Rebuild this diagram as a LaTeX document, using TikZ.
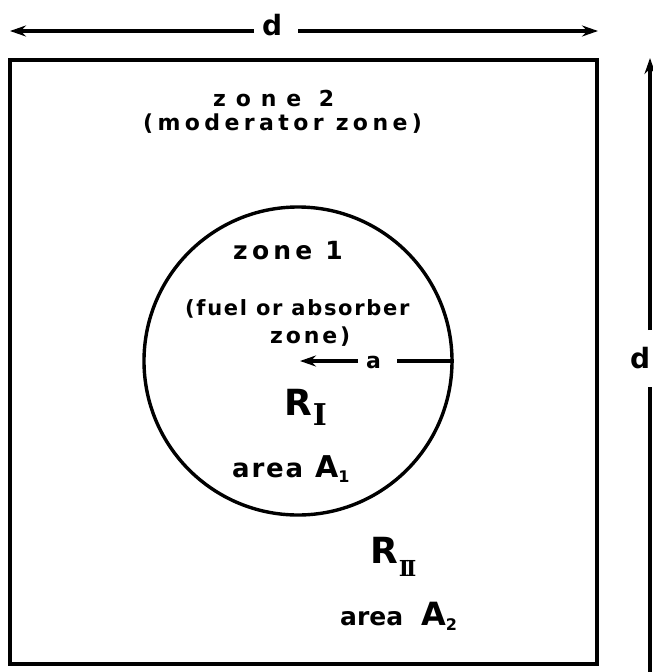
\documentclass[tikz,border=0pt]{standalone}
\usepackage{fontspec}
\setmainfont{DejaVu Sans}
\newfontfamily\serifnum{DejaVu Serif}
\usetikzlibrary{arrows.meta}
\newcommand{\fs}[2]{\fontsize{#1}{#1}\selectfont\addfontfeatures{LetterSpace=#2}}
\begin{document}
\begin{tikzpicture}[x=1pt,y=-1pt,
  ln/.style={line width=3.4pt},
  tip/.style={-{Stealth[length=16pt,width=11pt]}},
  lbl/.style={inner sep=0pt,anchor=base west,font=\bfseries}]
\useasboundingbox (0,0) rectangle (653,672);
\clip (0,0) rectangle (653,672);
% outer square and inner circle
\node[ln,draw,minimum width=587pt,minimum height=604pt,inner sep=0pt] (box) at (303.5,362) {};
\node[ln,draw,circle,minimum size=308pt,inner sep=0pt] (circ) at (298,361) {};
% top dimension
\node[lbl] (dtop) at (262,35) {\fs{28}{0}d};
\coordinate (tl) at (10,31);
\coordinate (tr) at (598,31);
\draw[ln,tip] (dtop.west |- 0,31) ++(-8,0) -- (tl);
\draw[ln,tip] (dtop.east |- 0,31) ++(16,0) -- (tr);
% right dimension
\node[lbl] (dright) at (630,368) {\fs{28}{0}d};
\coordinate (rt) at (650,58);
\coordinate (rb) at (650,700);
\coordinate (ru) at (650,330);
\coordinate (rl) at (650,387);
\draw[ln,tip] (ru) -- (rt);
\draw[ln,tip] (rl) -- (rb);
% radius
\node[lbl] (ra) at (366,368) {\fs{22}{0}a};
\coordinate (cc) at (300,361);
\coordinate (ra1) at (358,361);
\coordinate (ra2) at (397,361);
\draw[ln,tip] (ra1) -- (cc);
\draw[ln] (ra2) -- (circ.east);
% texts
\node[lbl] (z2) at (213,106) {\fs{22}{45}zone 2};
\node[lbl] (mod) at (143,130) {\fs{22}{20}(moderator zone)};
\node[lbl] (z1) at (233,259) {\fs{25}{17}zone 1};
\node[lbl] (fuel) at (185,315) {\fs{21}{8}(fuel or absorber};
\node[lbl] (zc) at (270,343) {\fs{22}{13}zone)};
\node[lbl] (r1) at (284,415) {\fs{36}{0}R\kern1pt\raisebox{-10pt}{\serifnum\bfseries\fs{30}{0}I}};
\node[lbl] (a1) at (232,477) {\fs{26}{7}area\hspace{12pt}\fs{30}{0}A\raisebox{-5pt}{\fs{16}{0}1}};
\node[lbl] (r2) at (370,563) {\fs{36}{0}R\kern1pt\raisebox{-13pt}{\serifnum\bfseries\fs{22}{0}I\kern-3pt I}};
\node[lbl] (a2) at (340,625) {\fs{25}{0}area\hspace{18pt}\fs{32}{0}A\raisebox{-5pt}{\fs{16}{0}2}};
\end{tikzpicture}
\end{document}
